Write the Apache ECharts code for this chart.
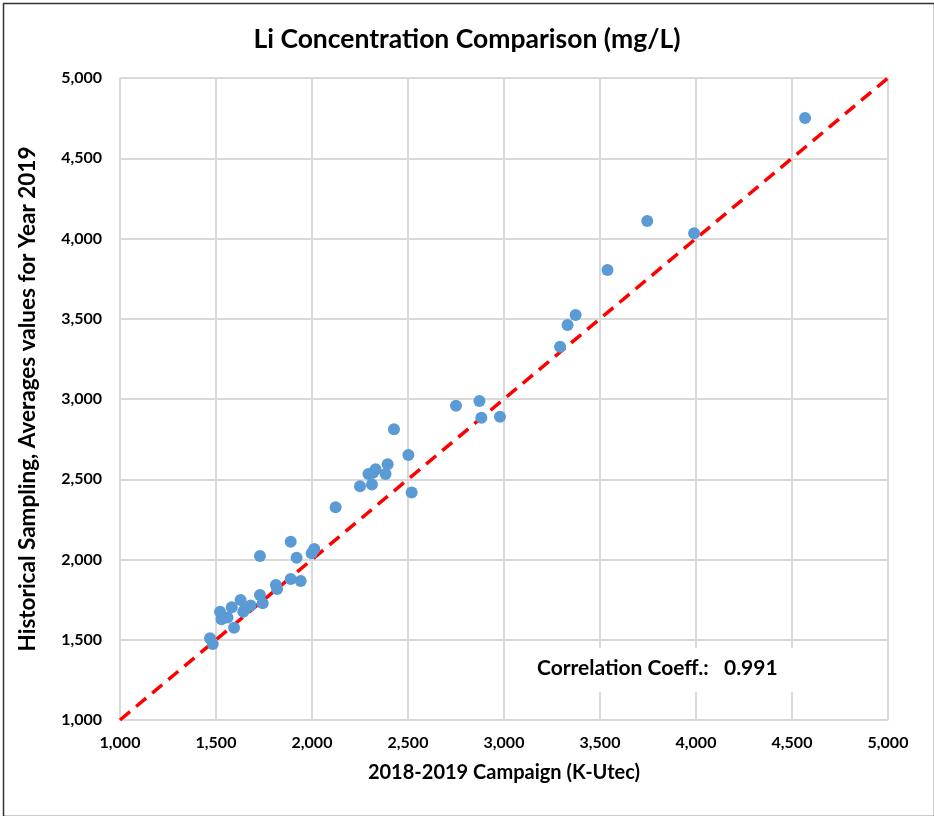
<!DOCTYPE html>
<html><head><meta charset="utf-8">
<script src="https://cdn.jsdelivr.net/npm/echarts@6/dist/echarts.min.js"></script>
<style>html,body{margin:0;padding:0;background:#fff}#c{width:934px;height:816px}</style>
</head><body><div id="c"></div>
<script>
const campaignX = [1469,1483,1521,1529,1560,1582,1594,1628,1642,1651,1680,1729,1743,1729,1812,1818,1889,1941,1889,1920,1998,2012,
  2123,2250,2312,2294,2331,2318,2383,2394,2427,2502,2519,
  2750,2872,2882,2979,
  3292,3331,3373,3539,3746,3990,4568];
const historicalY = [1509,1474,1675,1627,1639,1702,1575,1748,1675,1690,1714,2022,1727,1779,1841,1816,1879,1866,2111,2011,2039,2065,
  2325,2456,2467,2533,2562,2540,2533,2593,2811,2651,2417,
  2958,2988,2883,2890,
  3326,3461,3523,3804,4109,4032,4751];
const identityLine = [[1000,1000],[5000,5000]];
const correlationText = 'Correlation Coeff.:   0.991';
const titleText = 'Li Concentration Comparison (mg/L)';
const xName = '2018-2019 Campaign (K-Utec)';
const yName = 'Historical Sampling, Averages values for Year 2019';

const fmt = v => v.toLocaleString('en-US');
const font = 'Lato, "Open Sans", sans-serif';
const chart = echarts.init(document.getElementById('c'));
chart.setOption({
  animation:false,
  backgroundColor:'#fff',
  title:{text:titleText,left:'center',top:21,textStyle:{fontFamily:font,fontSize:26.5,fontWeight:'bold',color:'#000'}},
  grid:{left:120,right:46,top:78,bottom:96},
  xAxis:{type:'value',min:1000,max:5000,interval:500,name:xName,nameLocation:'middle',nameGap:43,
    nameTextStyle:{fontFamily:font,fontSize:20,fontWeight:'bold',color:'#000'},
    axisLine:{show:true,lineStyle:{color:'#d9d9d9',width:1.5}},axisTick:{show:false},
    axisLabel:{formatter:fmt,fontFamily:font,fontSize:16,fontWeight:'bold',color:'#000',margin:15},
    splitLine:{lineStyle:{color:'#d9d9d9',width:2}}},
  yAxis:{type:'value',min:1000,max:5000,interval:500,name:yName,nameLocation:'middle',nameGap:81,
    nameTextStyle:{fontFamily:font,fontSize:22.5,fontWeight:'bold',color:'#000'},
    axisLine:{show:true,lineStyle:{color:'#d9d9d9',width:1.5}},axisTick:{show:false},
    axisLabel:{formatter:fmt,fontFamily:font,fontSize:16,fontWeight:'bold',color:'#000',margin:18},
    splitLine:{lineStyle:{color:'#d9d9d9',width:2}}},
  series:[
    {type:'line',data:identityLine,symbol:'none',z:3,
      lineStyle:{color:'#ff0000',width:3.5,type:[13,8]}},
    {type:'scatter',data:campaignX.map((x,i)=>[x,historicalY[i]]),symbol:'circle',symbolSize:12,z:4,
      itemStyle:{color:'#5b9bd5',opacity:1}}
  ],
  graphic:[
    {type:'rect',left:1,top:1,shape:{width:931,height:813},style:{fill:'none',stroke:'#333',lineWidth:1.5},z:0,silent:true},
    {type:'rect',left:530,top:648,shape:{width:272,height:44},style:{fill:'#fff'},z:10},
    {type:'text',left:537,top:658,z:11,style:{text:correlationText,fontFamily:font,fontSize:21,fontWeight:'bold',fill:'#000'}}
  ]
});
</script></body></html>
